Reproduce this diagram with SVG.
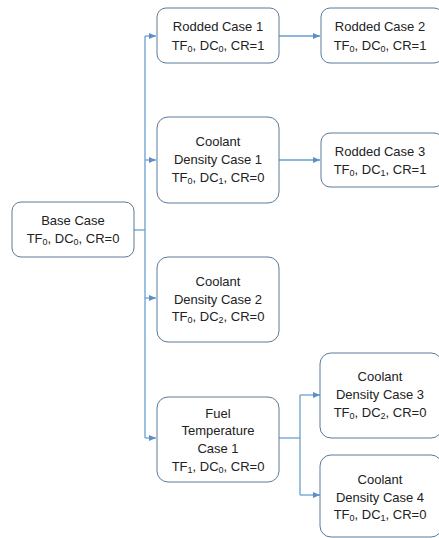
<svg xmlns="http://www.w3.org/2000/svg" width="439" height="538" viewBox="0 0 439 538">
<style>
.box{fill:#fff;stroke:#5a7a96;stroke-width:1}
.t{font-family:"Liberation Sans",Arial,sans-serif;font-size:13px;fill:#222;text-anchor:middle}
.s{font-size:9px}
.c{fill:none;stroke:#6a9fd0;stroke-width:1.3}
</style>
<defs>
<marker id="a" markerWidth="8" markerHeight="8" refX="7" refY="4" orient="auto" markerUnits="userSpaceOnUse">
<path d="M0,1 L7,4 L0,7 Z" fill="#5b8fc6"/>
</marker>
</defs>
<rect width="439" height="538" fill="#fff"/>
<g id="connectors">
<path class="c" d="M134,230 H145"/>
<path class="c" d="M145,36 V438"/>
<path class="c" d="M145,36 H156" marker-end="url(#a)"/>
<path class="c" d="M145,160 H156" marker-end="url(#a)"/>
<path class="c" d="M145,298 H156" marker-end="url(#a)"/>
<path class="c" d="M145,438 H156" marker-end="url(#a)"/>
<path class="c" d="M279,36 H320" marker-end="url(#a)"/>
<path class="c" d="M279,160 H320" marker-end="url(#a)"/>
<path class="c" d="M279,438 H300"/>
<path class="c" d="M300,395 V495"/>
<path class="c" d="M300,395 H320" marker-end="url(#a)"/>
<path class="c" d="M300,495 H320" marker-end="url(#a)"/>
</g>
<g id="base">
<rect class="box" x="12" y="202" width="122" height="55" rx="9"/>
<text class="t" x="73" y="225">Base Case</text>
<text class="t" x="73" y="243">TF<tspan class="s" dy="2">0</tspan><tspan dy="-2">, DC</tspan><tspan class="s" dy="2">0</tspan><tspan dy="-2">, CR=0</tspan></text>
</g>
<g id="rodded1">
<rect class="box" x="157" y="8" width="122" height="55" rx="9"/>
<text class="t" x="218" y="31">Rodded Case 1</text>
<text class="t" x="218" y="50">TF<tspan class="s" dy="2">0</tspan><tspan dy="-2">, DC</tspan><tspan class="s" dy="2">0</tspan><tspan dy="-2">, CR=1</tspan></text>
</g>
<g id="rodded2">
<rect class="box" x="321" y="8" width="122" height="55" rx="9"/>
<text class="t" x="380" y="31">Rodded Case 2</text>
<text class="t" x="380" y="50">TF<tspan class="s" dy="2">0</tspan><tspan dy="-2">, DC</tspan><tspan class="s" dy="2">0</tspan><tspan dy="-2">, CR=1</tspan></text>
</g>
<g id="coolant1">
<rect class="box" x="157" y="117" width="122" height="86" rx="11"/>
<text class="t" x="218" y="146">Coolant</text>
<text class="t" x="218" y="164">Density Case 1</text>
<text class="t" x="218" y="182">TF<tspan class="s" dy="2">0</tspan><tspan dy="-2">, DC</tspan><tspan class="s" dy="2">1</tspan><tspan dy="-2">, CR=0</tspan></text>
</g>
<g id="rodded3">
<rect class="box" x="321" y="133" width="122" height="54" rx="9"/>
<text class="t" x="380" y="156">Rodded Case 3</text>
<text class="t" x="380" y="174">TF<tspan class="s" dy="2">0</tspan><tspan dy="-2">, DC</tspan><tspan class="s" dy="2">1</tspan><tspan dy="-2">, CR=1</tspan></text>
</g>
<g id="coolant2">
<rect class="box" x="157" y="257" width="122" height="85" rx="11"/>
<text class="t" x="218" y="286">Coolant</text>
<text class="t" x="218" y="304">Density Case 2</text>
<text class="t" x="218" y="321">TF<tspan class="s" dy="2">0</tspan><tspan dy="-2">, DC</tspan><tspan class="s" dy="2">2</tspan><tspan dy="-2">, CR=0</tspan></text>
</g>
<g id="fuel1">
<rect class="box" x="157" y="397" width="122" height="85" rx="11"/>
<text class="t" x="218" y="418">Fuel</text>
<text class="t" x="218" y="435">Temperature</text>
<text class="t" x="218" y="453">Case 1</text>
<text class="t" x="218" y="471">TF<tspan class="s" dy="2">1</tspan><tspan dy="-2">, DC</tspan><tspan class="s" dy="2">0</tspan><tspan dy="-2">, CR=0</tspan></text>
</g>
<g id="coolant3">
<rect class="box" x="320" y="353" width="122" height="85" rx="11"/>
<text class="t" x="380" y="381">Coolant</text>
<text class="t" x="380" y="399">Density Case 3</text>
<text class="t" x="380" y="417">TF<tspan class="s" dy="2">0</tspan><tspan dy="-2">, DC</tspan><tspan class="s" dy="2">2</tspan><tspan dy="-2">, CR=0</tspan></text>
</g>
<g id="coolant4">
<rect class="box" x="320" y="455" width="122" height="82" rx="11"/>
<text class="t" x="380" y="484">Coolant</text>
<text class="t" x="380" y="502">Density Case 4</text>
<text class="t" x="380" y="519">TF<tspan class="s" dy="2">0</tspan><tspan dy="-2">, DC</tspan><tspan class="s" dy="2">1</tspan><tspan dy="-2">, CR=0</tspan></text>
</g>
</svg>
